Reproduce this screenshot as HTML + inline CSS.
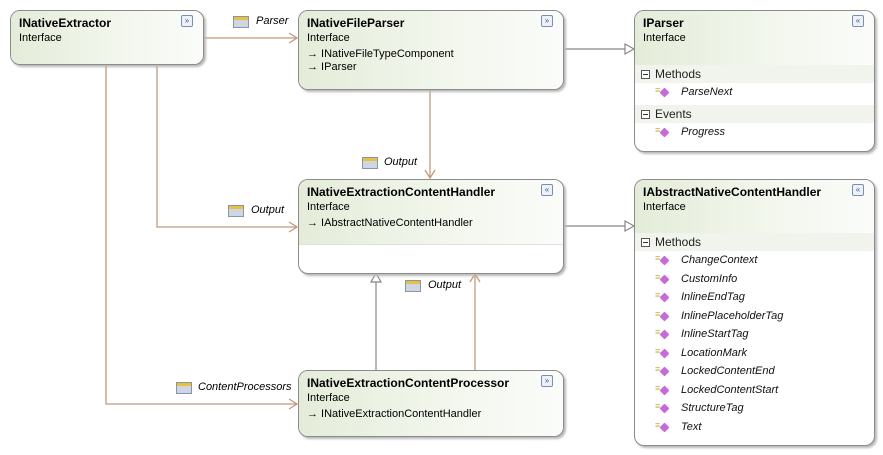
<!DOCTYPE html>
<html><head><meta charset="utf-8"><style>
body{margin:0;width:883px;height:455px;background:#fff;position:relative;overflow:hidden;font-family:"Liberation Sans",sans-serif;font-size:11px;color:#000}
.b{position:absolute;border:1px solid #8c8c8c;border-radius:10px;background:#fff;box-shadow:2px 2px 2px #b8b8b8;overflow:hidden;box-sizing:border-box}
.h{background:linear-gradient(90deg,#e4ecd9,#f3f7ee 60%,#fbfcfa);position:relative}
.t{position:absolute;left:8px;top:5px;font-weight:bold;font-size:12px}
.s{position:absolute;left:8px;font-size:11px}
.btn{position:absolute;right:10px;top:4px;width:10px;height:10px;border:1px solid #7a8fb0;border-radius:2px;background:#eef2f8;font-size:8px;line-height:9px;text-align:center;color:#405a8a}
.sec{position:absolute;left:0;right:0;height:18px;background:#f1f4ed;font-size:12px;line-height:18px;padding-left:20px;color:#222}
.sec:before{content:"";position:absolute;left:6px;top:5px;width:7px;height:7px;border:1px solid #555;background:#fff}
.sec:after{content:"";position:absolute;left:8px;top:9px;width:5px;height:1px;background:#333}
.m{position:absolute;left:46px;font-style:italic;font-size:11px;color:#111}
.m:before{content:"";position:absolute;left:-20px;top:3px;width:7px;height:7px;background:#c56ad8;transform:rotate(45deg);border-radius:1px}
.m:after{content:"≡";position:absolute;left:-26px;top:-1px;color:#c8b040;font-size:9px;font-style:normal}
.lbl{position:absolute;font-style:italic;font-size:11px}
.ic{position:absolute;width:14px;height:10px;background:linear-gradient(#e8c040 0 30%,#cfd6e2 30%);border:1px solid #8894a8}
</style></head><body>
<svg width="883" height="455" style="position:absolute;left:0;top:0">
<g stroke="#c09a7e" stroke-width="1.3" fill="none">
<line x1="203" y1="38" x2="297" y2="38"/><polyline points="289,33 297,38 289,43"/>
<line x1="430" y1="89" x2="430" y2="178"/><polyline points="425,170 430,178 435,170"/>
<polyline points="157,64 157,227 297,227"/><polyline points="289,222 297,227 289,232"/>
<polyline points="106,64 106,404 297,404"/><polyline points="289,399 297,404 289,409"/>
<line x1="475" y1="370" x2="475" y2="274"/><polyline points="470,282 475,274 480,282"/>
</g>
<g stroke="#888" stroke-width="1.2" fill="#fff">
<line x1="563" y1="49" x2="625" y2="49"/><polygon points="625,44 634,49 625,54"/>
<line x1="563" y1="226" x2="625" y2="226"/><polygon points="625,221 634,226 625,231"/>
<line x1="376" y1="370" x2="376" y2="282"/><polygon points="371,282 376,273 381,282"/>
</g></svg>

<div class="ic" style="left:233px;top:16px"></div><div class="lbl" style="left:256px;top:15px">Parser</div>
<div class="ic" style="left:362px;top:157px"></div><div class="lbl" style="left:384px;top:156px">Output</div>
<div class="ic" style="left:228px;top:205px"></div><div class="lbl" style="left:251px;top:204px">Output</div>
<div class="ic" style="left:405px;top:280px"></div><div class="lbl" style="left:428px;top:279px">Output</div>
<div class="ic" style="left:176px;top:382px"></div><div class="lbl" style="left:198px;top:381px">ContentProcessors</div>

<div class="b" style="left:10px;top:10px;width:194px;height:55px"><div class="h" style="height:55px"><div class="t">INativeExtractor</div><div class="s" style="top:21px">Interface</div><div class="btn">»</div></div></div>

<div class="b" style="left:298px;top:10px;width:266px;height:80px"><div class="h" style="height:80px"><div class="t">INativeFileParser</div><div class="s" style="top:21px">Interface</div><div class="s" style="top:37px">→ INativeFileTypeComponent</div><div class="s" style="top:50px">→ IParser</div><div class="btn">»</div></div></div>

<div class="b" style="left:634px;top:10px;width:241px;height:142px"><div class="h" style="height:54px"><div class="t">IParser</div><div class="s" style="top:21px">Interface</div><div class="btn">«</div></div>
<div class="sec" style="top:54px">Methods</div><div class="m" style="top:75px">ParseNext</div>
<div class="sec" style="top:94px">Events</div><div class="m" style="top:115px">Progress</div></div>

<div class="b" style="left:298px;top:179px;width:266px;height:95px"><div class="h" style="height:64px"><div class="t">INativeExtractionContentHandler</div><div class="s" style="top:21px">Interface</div><div class="s" style="top:37px">→ IAbstractNativeContentHandler</div><div class="btn">«</div></div><div style="border-top:1px solid #e0e0e0"></div></div>

<div class="b" style="left:634px;top:179px;width:241px;height:267px"><div class="h" style="height:54px"><div class="t">IAbstractNativeContentHandler</div><div class="s" style="top:21px">Interface</div><div class="btn">«</div></div>
<div class="sec" style="top:53px">Methods</div>
<div class="m" style="top:74px">ChangeContext</div>
<div class="m" style="top:93px">CustomInfo</div>
<div class="m" style="top:111px">InlineEndTag</div>
<div class="m" style="top:130px">InlinePlaceholderTag</div>
<div class="m" style="top:148px">InlineStartTag</div>
<div class="m" style="top:167px">LocationMark</div>
<div class="m" style="top:185px">LockedContentEnd</div>
<div class="m" style="top:204px">LockedContentStart</div>
<div class="m" style="top:222px">StructureTag</div>
<div class="m" style="top:241px">Text</div></div>

<div class="b" style="left:298px;top:370px;width:266px;height:67px"><div class="h" style="height:67px"><div class="t">INativeExtractionContentProcessor</div><div class="s" style="top:21px">Interface</div><div class="s" style="top:37px">→ INativeExtractionContentHandler</div><div class="btn">»</div></div></div>
</body></html>
